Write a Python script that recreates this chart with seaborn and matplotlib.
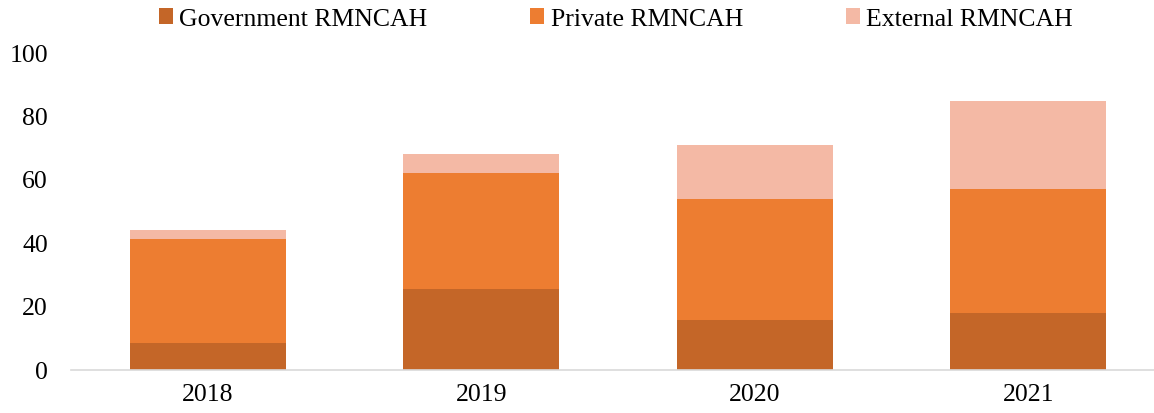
import numpy as np
import pandas as pd
import matplotlib
matplotlib.use("Agg")
import matplotlib.pyplot as plt
import seaborn as sns
from matplotlib.patches import Patch

# data
years = ["2018", "2019", "2020", "2021"]
government = [8.5, 25.4, 15.6, 17.8]
private = [32.6, 36.4, 38.0, 38.9]
external = [2.9, 6.1, 17.1, 28.0]

series_names = ["Government RMNCAH", "Private RMNCAH", "External RMNCAH"]
colors = ["#C46628", "#ED7D31", "#F4B9A5"]

sns.set_theme(style="white")
plt.rcParams["font.family"] = ["Liberation Serif", "DejaVu Serif"]
plt.rcParams["text.color"] = "black"

df = pd.DataFrame({"year": years, "gov": government, "priv": private, "ext": external})
df["top_gov"] = df["gov"]
df["top_priv"] = df["gov"] + df["priv"]
df["top_ext"] = df["top_priv"] + df["ext"]

fig = plt.figure(figsize=(11.54, 4.14), dpi=100)
ax = fig.add_axes([71 / 1154, 1 - 370.5 / 414, (1154 - 71) / 1154, (370.5 - 53) / 414])

# stacked bars: draw the cumulative totals back to front
for col, c in zip(["top_ext", "top_priv", "top_gov"], colors[::-1]):
    sns.barplot(data=df, x="year", y=col, color=c, width=0.57,
                linewidth=0, saturation=1, ax=ax)

ax.set_ylim(0, 100)
ax.set_xlim(-0.5, 3.46)
ax.set_yticks([0, 20, 40, 60, 80, 100])
ax.set_xlabel("")
ax.set_ylabel("")
ax.tick_params(axis="both", length=0, labelsize=18.5, colors="#000000")
ax.tick_params(axis="y", pad=16.5)
ax.tick_params(axis="x", pad=10)
for s in ["top", "right", "left"]:
    ax.spines[s].set_visible(False)
ax.spines["bottom"].set_color("#D9D9D9")
ax.spines["bottom"].set_linewidth(1.2)

handles = [Patch(facecolor=c, edgecolor="none") for c in colors]
fig.legend(handles, series_names, loc="center", bbox_to_anchor=(616 / 1154, 1 - 20 / 414),
           ncol=3, frameon=False, fontsize=18.5, handlelength=0.55, handleheight=0.55,
           handletextpad=0.25, columnspacing=4.0, borderpad=0, labelcolor="black")

fig.savefig("out.png", dpi=100)
